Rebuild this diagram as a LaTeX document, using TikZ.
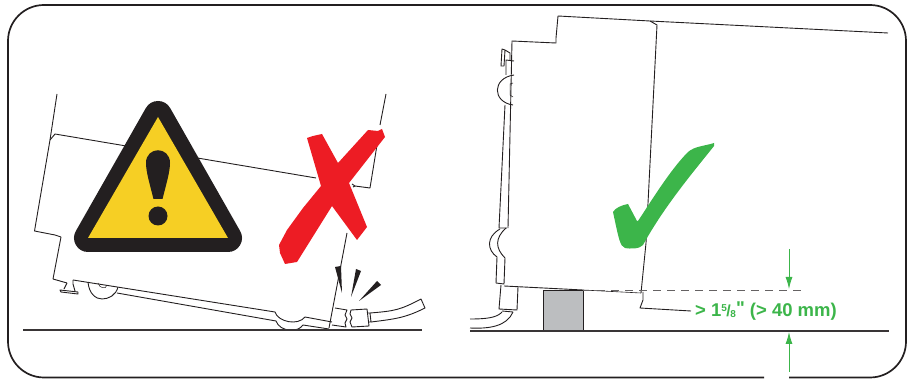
\documentclass[tikz,border=0pt]{standalone}
\usepackage{fontspec}
\setmainfont{Liberation Sans}
\newfontfamily\dimfont{Liberation Sans}
\usetikzlibrary{arrows.meta, positioning, calc}
\definecolor{signyellow}{HTML}{F6CF24}
\definecolor{signblack}{HTML}{231F20}
\definecolor{crossred}{HTML}{ED1C24}
\definecolor{tickgreen}{HTML}{3CB54A}
\definecolor{blockgray}{HTML}{BCBEC0}
\newcommand{\fiveeighths}{\raisebox{4.5pt}{\fontsize{10}{10}\selectfont 5}\kern-0.5pt{\fontsize{16}{16}\selectfont /}\kern-0.5pt\raisebox{-1pt}{\fontsize{10}{10}\selectfont 8}}
\tikzset{
    outline/.style={draw=signblack, line width=0.9pt, line join=round},
    ground/.style={draw=signblack!90, line width=1.7pt},
    dimarrow/.style={draw=tickgreen, line width=0.9pt, -{Latex[length=12pt, width=7pt]}},
}
\begin{document}
\begin{tikzpicture}[x=1pt, y=-1pt]
\useasboundingbox (0,0) rectangle (914,379);
% Frame, open below the dimension arrow
\draw[signblack, line width=1.7pt, rounded corners=36pt]
    (789,377.5) -- (906,377.5) -- (906,5) -- (8,5) -- (8,377.5) -- (764,377.5);

% Left machine: body
\draw[outline] (57,94) -- (50,140) -- (34.5,231) -- (55,235) -- (61,237) -- (53,279) -- (67,283);
\draw[outline] (50,140) -- (55,134) -- (316,178);
\draw[outline] (386,94) -- (380,125);
\draw[outline] (377,145) -- (370,188) -- (355,186) -- (353,187);
\draw[outline] (355,186) -- (352,184);
\draw[outline] (347,233) -- (329,328);
% Left machine: base plate, foot and wheel
\draw[outline] (73,280) -- (275,312) .. controls (278,322) and (298,326) .. (305,317) -- (332,322);
\draw[outline] (117,293) -- (276,321) .. controls (280,332) and (298,333) .. (303,325) -- (329,329);
\draw[outline] (73,280) -- (73,284) -- (75,291);
\draw[outline] (67,283) -- (64,289);
\draw[outline] (60,290) -- (78,292) -- (78,294) -- (61,292) -- cycle;
\draw[outline] (88,282) .. controls (89,294) and (96,299) .. (102,299) .. controls (109,299) and (116,295) .. (118,287);
\draw[outline, line width=0.5pt] (98,283) .. controls (99,288) and (106,290) .. (107,285);
% Left machine: broken connector and cable
\draw[outline] (335,308) -- (347,310) -- (345,315) -- (347,319) -- (345,323) -- (346,327) -- (332,325);
\draw[outline] (351,310) -- (367,309) -- (369,326) -- (352,327) -- (350,322) -- (352,318) -- (350,314) -- cycle;
\draw[outline] (367,313) -- (370,313) -- (371,322) -- (368,322);
\draw[outline] (370,313) .. controls (395,311) and (400,310) .. (421,299) -- (425,308)
    .. controls (405,318) and (395,319) .. (371,322);
\fill[signblack] (335,267) -- (341,266) -- (342,293) -- cycle;
\fill[signblack] (356,269) -- (361,271) -- (351,297) -- cycle;
\fill[signblack] (377,281) -- (381,285) -- (359,301) -- cycle;
\draw[ground] (23,330) -- (422,330);

% Warning sign
\draw[signblack, line width=28pt, line join=round] (158,115) -- (88,238) -- (228,238) -- cycle;
\fill[signyellow] (158,117) -- (88,238) -- (228,238) -- cycle;
\fill[signblack] (153.5,199) .. controls (150,185) and (146,172) .. (146,163)
    .. controls (146,146) and (170,146) .. (170,163)
    .. controls (170,172) and (166,185) .. (162.5,199) -- cycle;
\fill[signblack] (158,216) circle (9.5pt);

% Red cross
\fill[crossred] (307,138) -- (313,136) -- (322,134) -- (338,163) -- (368,130) -- (378,131) -- (382,129)
    -- (385,137) -- (349,183) -- (367,227) -- (357,240) -- (332,206) -- (297,262) -- (285,264)
    -- (280,253) -- (279,245) -- (287,230) -- (303,208) -- (321,186) -- cycle;

% Right machine: body
\draw[outline] (888,33) -- (650,21) -- (558,16) -- (556,38) -- (556,43) -- (512,41) -- (508,228);
\draw[outline] (650,21) -- (657,25) -- (646,243) -- (641,293);
\draw[outline] (643,292) -- (643,300) -- (640,308) -- (691,311);
\draw[outline] (504,286) -- (583,290);
\draw[outline, line width=0.6pt] (583,290) -- (641,293);
% Right machine: side strip, foot and wheel
\draw[outline] (506,75) -- (506,60) -- (514,61);
\draw[outline] (514,75) .. controls (492,78) and (492,102) .. (513,105);
\draw[outline] (505,105) -- (499,228) -- (507,228);
\draw[outline] (510,61) -- (510,53) -- (505,50) -- (502,49) -- (501,66) -- (504,66) -- (505,50);
\draw[outline, line width=0.5pt] (513,83) -- (510,84) -- (510,95) -- (513,97);
\draw[outline] (500,229) .. controls (486,237) and (487,250) .. (497,257) -- (496,283) -- (504,284) -- (505,258)
    .. controls (495,248) and (495,238) .. (506,228);
% Right machine: connector and cable
\draw[outline] (501,285) -- (499,309) -- (517,310) -- (518,287);
\draw[outline] (502,311) -- (513,312);
\draw[outline] (470,319) .. controls (485,319) and (497,318) .. (502,312);
\draw[outline] (470,328) .. controls (490,329) and (507,326) .. (513,312);
\draw[signblack, line width=0.9pt, fill=blockgray] (543,331) -- (543,290) -- (583,290) -- (583,331);
\draw[ground] (470,331) -- (889,331);

% Check mark
\fill[tickgreen] (613,212) .. controls (615,208) and (622,205) .. (628,204) -- (637,221) -- (638,221)
    .. controls (650,203) and (670,170) .. (688,152) .. controls (695,146) and (705,146) .. (714,143)
    -- (714,146) .. controls (695,170) and (665,205) .. (643,245)
    .. controls (640,249) and (630,249) .. (625,248) .. controls (620,246) and (619,240) .. (613,212) -- cycle;

% Dimension
\draw[signblack!70, line width=0.9pt, dash pattern=on 8pt off 6pt] (583,290) -- (804,290);
\coordinate (clearance top start) at (789,249);
\coordinate (clearance top end) at (789,289);
\coordinate (clearance low start) at (789,372);
\coordinate (clearance low end) at (789,332);
\draw[dimarrow] (clearance top start) -- (clearance top end);
\draw[dimarrow] (clearance low start) -- (clearance low end);
\node[anchor=west, inner sep=0pt, text=tickgreen, font=\dimfont\bfseries\fontsize{18.5}{20}\selectfont] (clearance) at (695,311)
    {> 1\fiveeighths\raisebox{2pt}{"} (> 40 mm)};
\end{tikzpicture}
\end{document}
